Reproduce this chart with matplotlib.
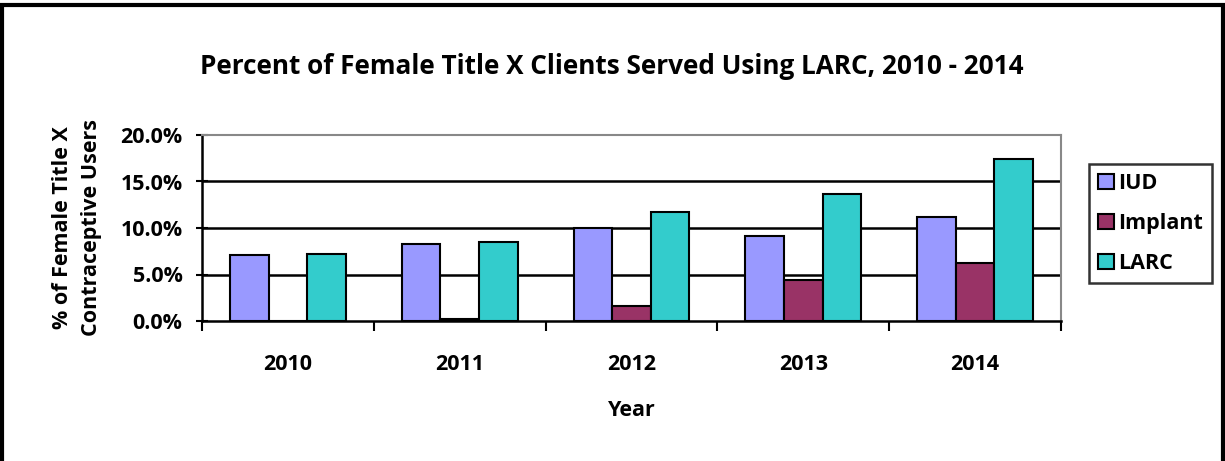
import matplotlib.pyplot as plt
import matplotlib.patches as patches
import numpy as np

years   = ["2010", "2011", "2012", "2013", "2014"]
iud     = [7.1, 8.25, 10.05, 9.15, 11.15]
implant = [0.05, 0.2, 1.6, 4.4, 6.2]
larc    = [7.2, 8.45, 11.75, 13.65, 17.45]

series = [("IUD", iud, "#9999FF"), ("Implant", implant, "#993366"), ("LARC", larc, "#33CCCC")]

plt.rcParams['font.family'] = ['Open Sans', 'DejaVu Sans']
plt.rcParams['font.weight'] = 'bold'

W, H = 1225, 461
fig = plt.figure(figsize=(W/100, H/100), dpi=100)
ax = fig.add_axes([202/W, 1-321/H, (1061-202)/W, (321-135)/H])

x = np.arange(len(years))
bw = 0.225
for i, (name, vals, col) in enumerate(series):
    ax.bar(x + (i-1)*bw, vals, bw, color=col, edgecolor="black", linewidth=1.5, label=name, zorder=3)

fs = 15.5
ax.set_xlim(-0.5, 4.5)
ax.set_ylim(0, 20)
ax.set_yticks([0, 5, 10, 15, 20])
ax.set_yticklabels(["0.0%", "5.0%", "10.0%", "15.0%", "20.0%"], fontsize=fs, fontweight="bold")
for y in [5, 10, 15]:
    ax.axhline(y, color="black", lw=1.8, zorder=1)
ax.set_xticks(x)
ax.set_xticklabels(years, fontsize=fs, fontweight="bold")
ax.set_xticks(np.arange(-0.5, 5, 1), minor=True)
ax.tick_params(axis="x", which="major", length=0, pad=24)
ax.tick_params(axis="x", which="minor", length=7, width=1.5, direction="out")
ax.tick_params(axis="y", length=8, width=1.5, direction="inout", pad=10)

for s in ["left", "bottom"]:
    ax.spines[s].set_linewidth(1.8)
    ax.spines[s].set_color("black")
for s in ["top", "right"]:
    ax.spines[s].set_linewidth(1.5)
    ax.spines[s].set_color("#888888")

ax.set_xlabel("Year", fontsize=fs, fontweight="bold", labelpad=18)
ax.set_ylabel("% of Female Title X\nContraceptive Users", fontsize=fs, fontweight="bold", labelpad=13, linespacing=1.5)

fig.text(612/W, 1-67/H, "Percent of Female Title X Clients Served Using LARC, 2010 - 2014",
         ha="center", va="center", fontsize=18.8, fontweight="bold")

leg = fig.legend(loc="upper left", bbox_to_anchor=(1089/W, 1-164/H), fontsize=fs,
                 frameon=True, fancybox=False, handlelength=0.75, handleheight=0.75,
                 handletextpad=0.2, labelspacing=0.88, borderpad=0.42, borderaxespad=0)
leg.get_frame().set_edgecolor("black")
leg.get_frame().set_linewidth(1.8)
for t in leg.get_texts():
    t.set_fontweight("bold")

fig.patches.append(patches.Rectangle((2/W, -0.05), (1223-2)/W, 1.05-5/H, transform=fig.transFigure,
                                     fill=False, edgecolor="black", linewidth=3))

fig.savefig("out.png", dpi=100)
